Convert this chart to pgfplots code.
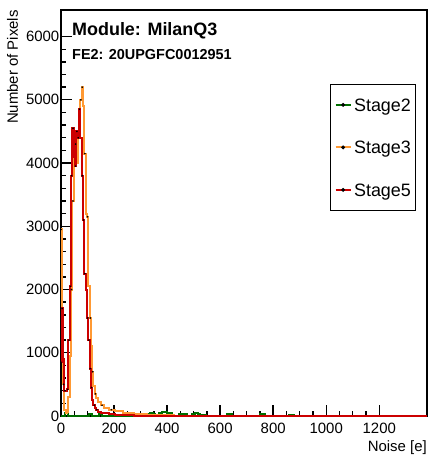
\documentclass[border=0pt]{standalone}
\usepackage{pgfplots}
\pgfplotsset{compat=1.18}
\usepackage{fontspec}
\setmainfont{Liberation Sans}
\definecolor{sgreen}{RGB}{0,110,0}
\definecolor{sorange}{RGB}{255,153,51}
\definecolor{sred}{RGB}{204,0,0}
\begin{document}
\begin{tikzpicture}
\begin{axis}[
  at={(0,0)}, anchor=south west,
  scale only axis, width=366bp, height=406bp,
  xmin=0, xmax=1380, ymin=0, ymax=6420,
  clip=false,
  xtick={0,200,...,1200}, minor x tick num=3,
  ytick={0,1000,...,6000}, minor y tick num=4,
  tick align=inside, xtick pos=left, ytick pos=left,
  major tick length=11bp, minor tick length=5bp,
  axis line style={line width=1.6bp},
  every tick/.style={black, line width=1.4bp},
  /pgf/number format/assume math mode=true,
  /pgf/number format/1000 sep={},
  tick label style={font=\fontsize{15}{15}\selectfont},
  yticklabel style={inner xsep=1.5bp},
  xticklabel style={anchor=base, yshift=-17bp},
  legend cell align=left,
  legend image code/.code={\draw[#1] (0bp,0bp) -- (15bp,0bp); \fill[black] (7.5bp,0bp) circle (0.7bp);},
  legend style={at={(0.9713,0.8177)}, anchor=north east, draw=black, line width=1.2bp, fill=white,
    font=\fontsize{18}{18}\selectfont, row sep=28bp, column sep=1.5bp, inner xsep=4bp, inner ysep=13bp,
    nodes={inner sep=1bp, text depth=0pt}},
]
% Stage2
\addplot[sgreen, line width=2bp, const plot mark left] coordinates {
(0,0) (15,40) (25,0) (105,30) (115,0) (145,30) (155,0)
(325,35) (335,40) (345,30) (355,0) (370,50) (380,60) (390,60) (400,55) (410,45) (420,0)
(445,25) (455,30) (465,25) (475,0) (495,35) (505,40) (515,30) (525,15) (535,15) (545,0)
(625,35) (635,35) (645,0) (750,25) (760,25) (770,0) (860,15) (870,15) (880,0) (1380,0)
};
\addlegendentry{Stage2}
% Stage3
\addplot[sorange, line width=2bp, const plot mark mid] coordinates {
(0,2950) (5,1400) (10,500) (15,100) (20,50) (25,60) (30,300) (35,950) (40,2000) (45,3400)
(50,4100) (55,4300) (60,4000) (65,4400) (70,4700) (75,5000) (80,5200) (85,4900) (90,4150)
(95,3200) (100,3150) (105,2050) (110,1550) (115,1100) (120,700) (125,480) (130,350) (135,280)
(145,220) (155,170) (170,130) (190,100) (215,80) (250,55) (300,35) (350,18) (400,8) (450,3)
(500,0) (1380,0)
};
\addlegendentry{Stage3}
% Stage5
\addplot[sred, line width=2bp, const plot mark mid] coordinates {
(0,850) (5,1700) (10,900) (15,400) (20,400) (25,420) (30,1200) (35,2050) (40,3800) (45,4550)
(50,4100) (55,3950) (60,4500) (65,4400) (70,4850) (75,4400) (80,3800) (85,3100) (90,2250)
(95,2000) (100,1550) (105,1200) (110,750) (115,450) (120,260) (125,170) (130,130) (135,100)
(145,70) (155,55) (170,40) (190,28) (215,18) (250,10) (300,5) (350,2) (400,0) (1380,0)
};
\addlegendentry{Stage5}
% markers
\addplot[only marks, mark=*, mark size=0.6bp, black, forget plot, restrict y to domain=90:100000] coordinates {
(0,2950) (10,500) (40,2000) (45,3400)
(55,4300) (65,4400) (75,5000) (80,5200) (90,4150)
(100,3150) (110,1550) (120,700) (130,350)
(155,170) (190,100)
};
\addplot[only marks, mark=*, mark size=0.6bp, black, forget plot, restrict y to domain=90:100000] coordinates {
(0,850) (5,1700) (15,400) (25,420) (30,1200) (35,2050) (40,3800) (45,4550)
(55,3950) (60,4500) (70,4850) (80,3800) (85,3100) (90,2250)
(100,1550) (105,1200) (110,750) (115,450) (125,170) (135,100)
};
\end{axis}
\node[anchor=base west, font=\fontsize{18}{18}\selectfont\bfseries, inner sep=0] at (11bp,380bp) {Module: MilanQ3};
\node[anchor=base west, font=\fontsize{14.5}{14.5}\selectfont\bfseries, inner sep=0] at (11bp,356.7bp) {FE2: 20UPGFC0012951};
\node[anchor=base east, rotate=90, font=\fontsize{15}{15}\selectfont, inner sep=0] at (-43bp,406bp) {Number of Pixels};
\node[anchor=base east, font=\fontsize{15}{15}\selectfont, inner sep=0] at (366bp,-35bp) {Noise [e]};
\pgfresetboundingbox
\useasboundingbox (-61bp,-42bp) rectangle (370bp,416bp);
\end{tikzpicture}
\end{document}
